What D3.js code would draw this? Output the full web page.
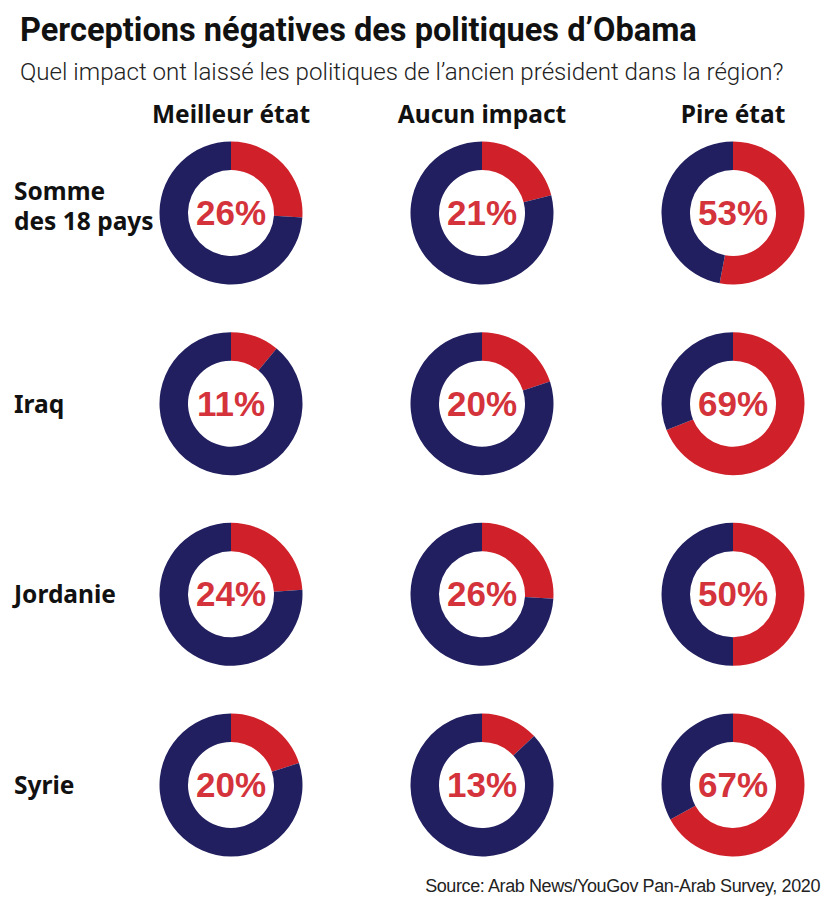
<!DOCTYPE html>
<html>
<head>
<meta charset="utf-8">
<script src="https://cdn.jsdelivr.net/npm/d3@7"></script>
<style>
  body { margin: 0; background: #fff; }
  svg { display: block; }
</style>
</head>
<body>
<div id="chart"></div>
<script>
// Données
var colonnes = ["Meilleur état", "Aucun impact", "Pire état"];
var pays = ["Somme des 18 pays", "Iraq", "Jordanie", "Syrie"];
var etiquettesPays = [["Somme", "des 18 pays"], ["Iraq"], ["Jordanie"], ["Syrie"]];
var valeurs = [
  [26, 21, 53],
  [11, 20, 69],
  [24, 26, 50],
  [20, 13, 67]
];

var width = 831, height = 903;
var rouge = "#d0202a", bleu = "#211f5f", texteRouge = "#d4333b";

var svg = d3.select("#chart").append("svg")
  .attr("width", width)
  .attr("height", height);

// ajuste la taille de police pour une largeur cible
function ajuster(sel, cible) {
  var fs = parseFloat(sel.style("font-size"));
  var w = sel.node().getComputedTextLength();
  sel.style("font-size", (fs * cible / w) + "px");
}

// Titre et sous-titre
var titre = svg.append("text")
  .attr("x", 20).attr("y", 41)
  .style("font-family", "Roboto, 'Noto Sans', sans-serif")
  .style("font-weight", 700)
  .style("font-size", "30px")
  .style("fill", "#111")
  .text("Perceptions négatives des politiques d’Obama");
ajuster(titre, 677);

var sousTitre = svg.append("text")
  .attr("x", 20).attr("y", 80)
  .style("font-family", "Roboto, 'Noto Sans', sans-serif")
  .style("font-weight", 300)
  .style("font-size", "24px")
  .style("fill", "#222")
  .text("Quel impact ont laissé les politiques de l’ancien président dans la région?");
ajuster(sousTitre, 764);

// Echelles
var x = d3.scalePoint().domain(colonnes).range([231, 733]);
var y = d3.scalePoint().domain(pays).range([213, 785]);

// En-têtes de colonnes
svg.selectAll(".entete")
  .data(colonnes)
  .enter()
  .append("text")
  .attr("class", "entete")
  .attr("x", function(d) { return x(d); })
  .attr("y", 123)
  .attr("text-anchor", "middle")
  .style("font-family", "'Noto Sans', sans-serif")
  .style("font-weight", 700)
  .style("font-size", "24.5px")
  .style("fill", "#111")
  .text(function(d) { return d; });

// Libellés des lignes
var lignes = svg.selectAll(".ligne")
  .data(pays)
  .enter()
  .append("text")
  .attr("class", "ligne")
  .attr("x", 14)
  .attr("y", function(d) { return y(d); })
  .style("font-family", "'Noto Sans', sans-serif")
  .style("font-weight", 700)
  .style("font-size", "24.5px")
  .style("fill", "#111");

lignes.selectAll("tspan")
  .data(function(d, i) { return etiquettesPays[i].map(function(t, j) { return {t: t, j: j, n: etiquettesPays[i].length}; }); })
  .enter()
  .append("tspan")
  .attr("x", 14)
  .attr("dy", function(d) {
    if (d.j == 0) return (d.n == 1 ? 9 : -13) + "px";
    return "30px";
  })
  .text(function(d) { return d.t; });

// Donuts
var pie = d3.pie().sort(null).value(function(d) { return d; });
var arc = d3.arc().innerRadius(43).outerRadius(71.5);

var cellules = [];
pays.forEach(function(p, i) {
  colonnes.forEach(function(c, j) {
    cellules.push({pays: p, colonne: c, valeur: valeurs[i][j]});
  });
});

var donuts = svg.selectAll(".donut")
  .data(cellules)
  .enter()
  .append("g")
  .attr("class", "donut")
  .attr("transform", function(d) { return "translate(" + x(d.colonne) + "," + y(d.pays) + ")"; });

donuts.selectAll("path")
  .data(function(d) { return pie([d.valeur, 100 - d.valeur]); })
  .enter()
  .append("path")
  .attr("d", arc)
  .style("fill", function(d, i) { return i == 0 ? rouge : bleu; });

donuts.append("text")
  .attr("text-anchor", "middle")
  .attr("y", 12)
  .style("font-family", "'Liberation Sans', Arial, sans-serif")
  .style("font-weight", 700)
  .style("font-size", "35px")
  .style("fill", texteRouge)
  .text(function(d) { return d.valeur + "%"; });

// Source
svg.append("text")
  .attr("x", 820)
  .attr("y", 892)
  .attr("text-anchor", "end")
  .style("font-family", "'Liberation Sans', Arial, sans-serif")
  .style("font-size", "18px")
  .style("letter-spacing", "-0.4px")
  .style("fill", "#222")
  .text("Source: Arab News/YouGov Pan-Arab Survey, 2020");
</script>
</body>
</html>
